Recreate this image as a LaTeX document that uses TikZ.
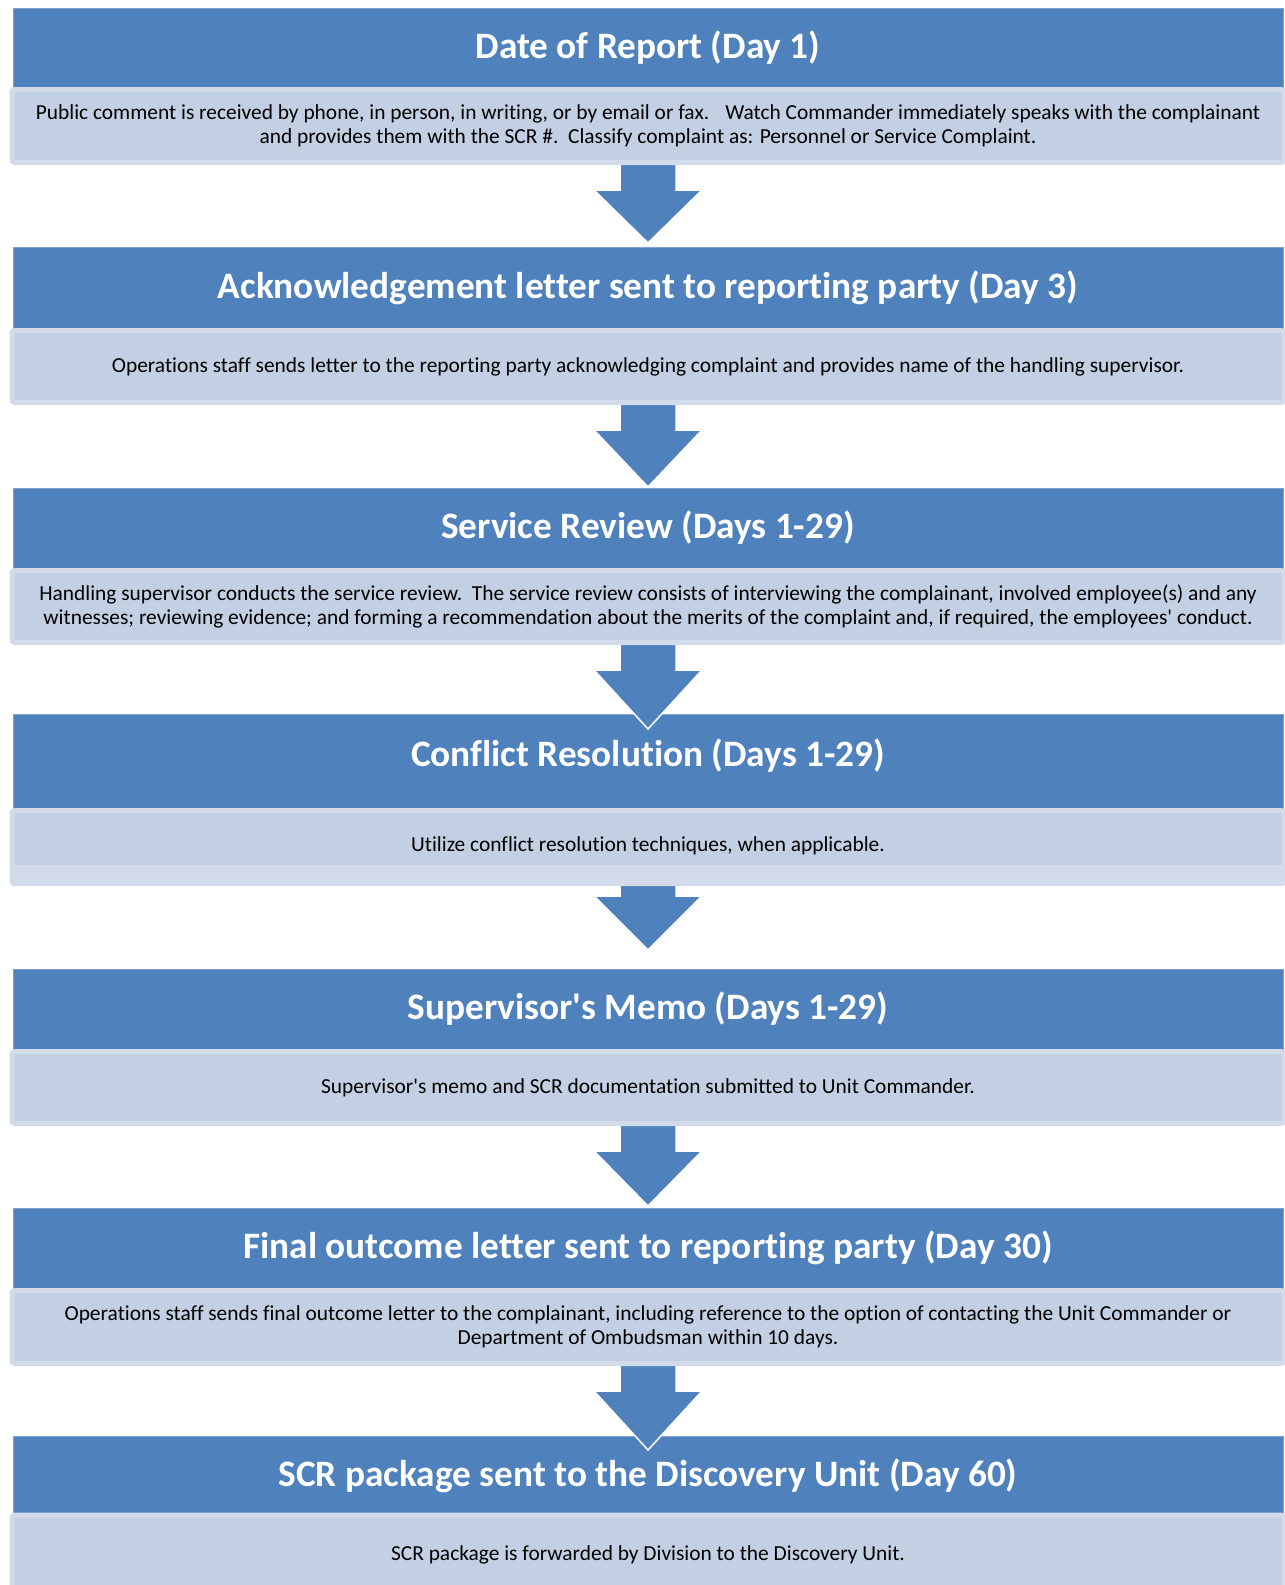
\documentclass[tikz,border=0pt]{standalone}
\usepackage{fontspec}
\setmainfont{Carlito}[Ligatures={TeX,NoCommon}]
\usetikzlibrary{calc}
\definecolor{hblue}{HTML}{4F81BD}
\definecolor{bodyfill}{HTML}{C3CFE2}
\definecolor{bodyedge}{HTML}{D3DBEA}
\pgfdeclarelayer{front}
\pgfsetlayers{main,front}
\tikzset{
  header/.style={fill=hblue, draw=hblue!75!white, line width=0.8pt, inner sep=0pt,
    minimum width=1270pt, text=white, font=\bfseries\fontsize{37.3}{42}\selectfont},
  bodybox/.style={fill=bodyfill, draw=bodyedge, line width=5pt, rounded corners=3pt,
    inner sep=0pt, minimum width=1272pt, align=center, text=black,
    font=\fontsize{21.4}{24.5}\selectfont},
  blockarrow/.style={fill=hblue, draw=white, line width=1.5pt, line join=miter}
}
\begin{document}
\begin{tikzpicture}[x=1pt,y=-1pt]
			\path[use as bounding box, fill=white] (0,0) rectangle (1285,1585);
			\clip (0,0) rectangle (1285,1585);
			% headers
			\node[header, minimum height=79pt] (h1) at (648,47.5) {Date of Report (Day 1)};
			\node[header, minimum height=81pt] (h2) at (648,287.5) {Acknowledgement letter sent to reporting party (Day 3)};
			\node[header, minimum height=80pt] (h3) at (648,528) {Service Review (Days 1-29)};
			\node[header, minimum height=94pt, text height=28pt, text depth=17pt] (h4) at (648,761) {Conflict Resolution (Days 1-29)};
			\node[header, minimum height=80pt] (h5) at (648,1009) {Supervisor\textquotesingle s Memo (Days 1-29)};
			\node[header, minimum height=80pt] (h6) at (648,1248) {Final outcome letter sent to reporting party (Day 30)};
			\node[header, minimum height=79pt] (h7) at (648,1475.5) {SCR package sent to the Discovery Unit (Day 60)};
			% bodies
			\begin{pgfonlayer}{front}
			\node[bodybox, minimum height=73pt] (b1) at (648,126) {Public comment is received by phone, in person, in writing, or by email or fax. \ \ Watch Commander immediately speaks with the complainant\\ and provides them with the SCR \#.\ \ Classify complaint as: Personnel or Service Complaint.};
			\node[bodybox, minimum height=72pt] (b2) at (648,366.5) {Operations staff sends letter to the reporting party acknowledging complaint and provides name of the handling supervisor.};
			\node[bodybox, minimum height=72pt] (b3) at (648,606.5) {Handling supervisor conducts the service review.\ \ The service review consists of interviewing the complainant, involved employee(s) and any\\ witnesses; reviewing evidence; and forming a recommendation about the merits of the complaint and, if required, the employees\textquotesingle\ conduct.};
			\node[bodybox, minimum height=73pt] (b4) at (648,847) {};
			\fill[bodyedge] ($(b4.south west)+(2.5,-21)$) rectangle ($(b4.south east)+(-2.5,0)$);
			\node[font=\fontsize{21.4}{24.5}\selectfont] (t4) at (648,846) {Utilize conflict resolution techniques, when applicable.};
			\node[bodybox, minimum height=72pt] (b5) at (648,1087.5) {Supervisor\textquotesingle s memo and SCR documentation submitted to Unit Commander.};
			\node[bodybox, minimum height=73pt] (b6) at (648,1327) {Operations staff sends final outcome letter to the complainant, including reference to the option of contacting the Unit Commander or\\ Department of Ombudsman within 10 days.};
			\node[bodybox, minimum height=80pt] (b7) at (648,1555) {};
			\node[font=\fontsize{21.4}{24.5}\selectfont] (t7) at (648,1555) {SCR package is forwarded by Division to the Discovery Unit.};
			\end{pgfonlayer}
			% arrows
			\foreach \i/\dy/\len in {1/-1/79, 2/-1/83, 3/-1/85, 4/-16/80, 5/-1/81, 6/-1/85}{
				\coordinate (a\i) at ($(h\i.south |- b\i.south)+(0,\dy)$);
				\draw[blockarrow] ($(a\i)+(-28,0)$) -- ($(a\i)+(-28,26)$) -- ($(a\i)+(-54,26)$)
					-- ($(a\i)+(0,\len)$) -- ($(a\i)+(54,26)$) -- ($(a\i)+(28,26)$) -- ($(a\i)+(28,0)$);
			}
		\end{tikzpicture}
\end{document}
